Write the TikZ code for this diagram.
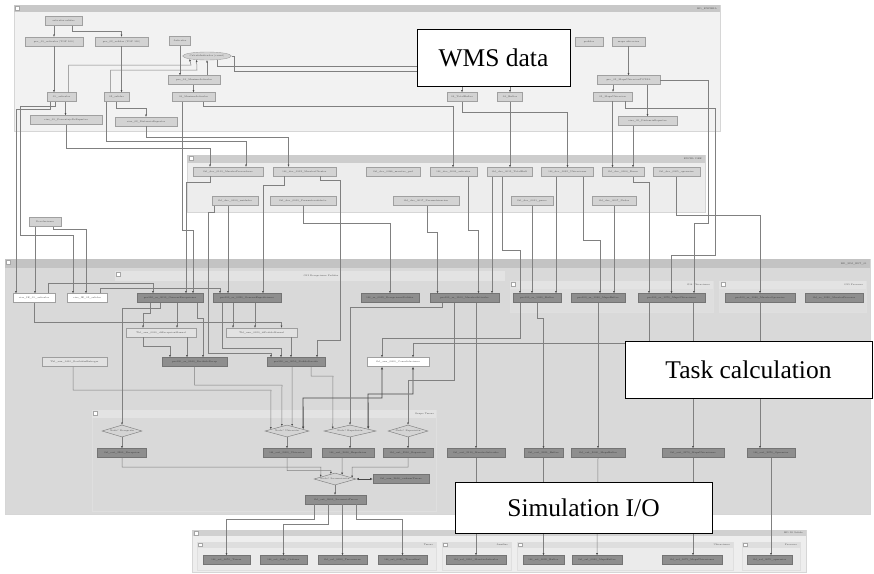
\documentclass[tikz,border=0pt]{standalone}
\usepackage{fontspec}
\newfontfamily\calloutfont{Liberation Serif}
\usetikzlibrary{shapes.geometric,arrows.meta}
\definecolor{pnlA}{HTML}{F2F2F2}
\definecolor{barA}{HTML}{C8C8C8}
\definecolor{pnlB}{HTML}{D6D6D6}
\definecolor{pnlX}{HTML}{EDEDED}
\definecolor{barX}{HTML}{CDCDCD}
\definecolor{pnlS}{HTML}{D9D9D9}
\definecolor{barS}{HTML}{C3C3C3}
\definecolor{subbar}{HTML}{E3E3E3}
\definecolor{subbody}{HTML}{DEDEDE}
\definecolor{pnlO}{HTML}{EEEEEE}
\definecolor{barO}{HTML}{D0D0D0}
\definecolor{lb}{HTML}{D3D3D3}
\definecolor{bd}{HTML}{A0A0A0}
\definecolor{db}{HTML}{8E8E8E}
\definecolor{dbd}{HTML}{747474}
\definecolor{gb}{HTML}{E2E2E2}
\definecolor{lc}{HTML}{808080}
\definecolor{tipc}{HTML}{4A4A4A}
\definecolor{tx}{HTML}{4A4A4A}
\definecolor{diaf}{HTML}{D4D4D4}
\definecolor{diac}{HTML}{7E7E7E}
\newcommand\tl{\fontsize{2.3}{2.6}\selectfont}
\tikzset{
 conn/.style={draw=lc, line width=0.5pt, -{Latex[length=2.2pt,width=2pt,color=tipc]}},
 bconn/.style={draw=black!72, line width=0.9pt, {Latex[length=2.6pt,width=2.4pt]}-{Latex[length=2.6pt,width=2.4pt]}},
 nd/.style={rectangle, draw=bd, line width=0.4pt, minimum height=9pt, inner sep=0.3pt, font=\tl, text=tx},
 lbox/.style={nd, fill=lb},
 dbox/.style={nd, fill=db, draw=dbd, text=black!80},
 wbox/.style={nd, fill=white},
 gbox/.style={nd, fill=gb, draw=black!38},
 ell/.style={ellipse, draw=bd, fill=lb, line width=0.4pt, inner sep=0pt, font=\tl, text=tx},
 dia/.style={diamond, aspect=3.5, draw=diac, fill=diaf, line width=0.45pt, inner sep=0pt, minimum height=12pt, font=\tl, text=tx},
 callout/.style={rectangle, draw=black, line width=0.9pt, fill=white, inner sep=0pt, font=\calloutfont\fontsize{25.5}{30}\selectfont, text=black},
 ptitle/.style={font=\tl, text=tx, inner sep=0pt},
 chk/.style={draw=gray!70, fill=white, line width=0.3pt},
}
\begin{document}
\begin{tikzpicture}[x=1pt,y=-1pt]
\useasboundingbox (0,0) rectangle (874,573);
\fill[white] (0,0) rectangle (874,573);
% ---------- panels ----------
\path[fill=pnlA, draw=pnlB, line width=0.4pt] (14,5) rectangle (720,131);
\path[fill=barA] (14,5) rectangle (720,12);
\path[chk] (15.5,6) rectangle (19.5,10);
\node[ptitle, anchor=east] (tA1) at (717,8.5) {BD\_EXPBEA};

\path[fill=pnlX, draw=pnlB, line width=0.4pt] (187,155) rectangle (705,212);
\path[fill=barX] (187,155) rectangle (705,163);
\path[chk] (189,156) rectangle (193,160);
\node[ptitle, anchor=east] (tX1) at (702,159) {EXCEL DBE};

\path[fill=pnlS, draw=pnlB, line width=0.4pt] (5,259) rectangle (870,514);
\path[fill=barS] (5,259) rectangle (870,268);
\path[chk] (6,260) rectangle (10,264);
\node[ptitle, anchor=east] (tS1) at (867,263.5) {BD\_SIM\_EST\_01};

\path[fill=subbar] (115,271) rectangle (505,281);
\path[chk] (116.5,272.5) rectangle (120.5,276.5);
\node[ptitle] (tG12) at (321,276) {G12 Recepciones Pedidos};

\path[fill=subbody, draw=white!75!gray, line width=0.3pt] (510,281) rectangle (713,312);
\path[fill=subbar] (510,281) rectangle (713,289);
\path[chk] (511.5,282.5) rectangle (515.5,286.5);
\node[ptitle, anchor=east] (tG14) at (710,285) {G14 Ubicaciones};

\path[fill=subbody, draw=white!75!gray, line width=0.3pt] (719,281) rectangle (866,312);
\path[fill=subbar] (719,281) rectangle (866,289);
\path[chk] (721,282.5) rectangle (725,286.5);
\node[ptitle, anchor=east] (tG15) at (863,285) {G15 Procesos};

\path[fill=pnlS, draw=white!75!gray, line width=0.3pt] (92,410) rectangle (436,511);
\path[fill=subbar] (92,410) rectangle (436,418);
\path[chk] (93.5,411.5) rectangle (97.5,415.5);
\node[ptitle, anchor=east] (tGT) at (434,414) {Grupo Tareas};

\path[fill=pnlO, draw=pnlB, line width=0.4pt] (192,530) rectangle (806,572);
\path[fill=barO] (192,530) rectangle (806,536);
\path[chk] (194,531) rectangle (198,535);
\node[ptitle, anchor=east] (tO1) at (803,533) {BD IO Salida};
\foreach \xa/\xb/\nm/\lab in {197/436/oA/Tareas, 442/511/oB/Auxiliar, 517/733/oC/Ubicaciones, 742/800/oD/Procesos}{
  \path[fill=subbody!60!white, draw=white!75!gray, line width=0.3pt] (\xa,542) rectangle (\xb,570);
  \path[fill=barO!70!white] (\xa,542) rectangle (\xb,548);
  \path[chk] (\xa+1.5,543) rectangle (\xa+5,546.5);
  \node[ptitle, anchor=east] (\nm) at (\xb-3,545) {\lab};
}

% ---------- nodes: top panel ----------
\node[lbox, minimum width=37pt] (as) at (63.5,21) {articulos.salidas};
\node[lbox, minimum width=58pt] (p01) at (54,41.5) {pro\_01\_articulos (TOP 100)};
\node[lbox, minimum width=53pt] (p02) at (121.5,41.5) {pro\_02\_salidas (TOP 100)};
\node[lbox, minimum width=21pt] (art) at (180,41) {Articulos};
\node[ell, minimum width=45pt, minimum height=8pt] (cI) at (207,56) {CalculoIndicador (count)};
\node[lbox, minimum width=52pt] (p03) at (194,80) {pro\_03\_MaximoArticulos};
\node[lbox, minimum width=43pt] (m03) at (193.5,97) {03\_MaximoArticulos};
\node[lbox, minimum width=29pt] (a01) at (61.5,97) {01\_articulos};
\node[lbox, minimum width=25pt] (s02) at (116.5,97) {02\_salidas};
\node[lbox, minimum width=72pt] (v01) at (66,120) {vias\_01\_PorcentajeDeRepartos};
\node[lbox, minimum width=62pt] (v02) at (146,121.5) {vias\_02\_DistanciaRepartos};
\node[lbox, minimum width=30pt] (tb03) at (462,97) {03\_TotalBultos};
\node[lbox, minimum width=25pt] (b04) at (510,97) {04\_Bultos};
\node[lbox, minimum width=28pt] (ped) at (589,41.5) {pedidos};
\node[lbox, minimum width=33pt] (mapa) at (628.5,41.5) {mapa ubicacion};
\node[lbox, minimum width=63pt] (p05) at (628.5,80) {pro\_05\_MapaUbicacionTOTAL};
\node[lbox, minimum width=39pt] (m05) at (612.5,96.5) {05\_MapaUbicacion};
\node[lbox, minimum width=59pt] (v05) at (647.5,121) {vias\_05\_DistanciaRepartos};

% ---------- nodes: excel panel ----------
\node[lbox, minimum width=70pt] (d101) at (228,171.5) {tbl\_dev\_0101\_MaestroProveedores};
\node[lbox, minimum width=63pt] (d102) at (304.5,171.5) {tbl\_dev\_0102\_MaestroClientes};
\node[lbox, minimum width=54pt] (d086) at (393,172) {tbl\_dev\_0086\_maestro\_prd};
\node[lbox, minimum width=47pt] (d003) at (453.5,172) {tbl\_dev\_0003\_articulos};
\node[lbox, minimum width=45pt] (d015) at (509.5,172) {tbl\_dev\_0015\_TotalBult};
\node[lbox, minimum width=52pt] (d032) at (567.5,172) {tbl\_dev\_0032\_Ubicaciones};
\node[lbox, minimum width=42pt] (d004) at (623,172) {tbl\_dev\_0004\_Zonas};
\node[lbox, minimum width=47pt] (d005) at (676.5,172) {tbl\_dev\_0005\_operarios};
\node[lbox, minimum width=46pt] (d010) at (235,201) {tbl\_dev\_0010\_unidades};
\node[lbox, minimum width=66pt] (d001) at (303,201) {tbl\_dev\_0001\_Parametrosdefecto};
\node[lbox, minimum width=66pt] (d017) at (426,201) {tbl\_dev\_0017\_Parametrizacion};
\node[lbox, minimum width=42pt] (d011) at (532,201) {tbl\_dev\_0011\_pasos};
\node[lbox, minimum width=44pt] (d007) at (614,201) {tbl\_dev\_0007\_Nodos};
\node[lbox, minimum width=32pt] (dev) at (45,222) {Devoluciones};

% ---------- nodes: simulation panel ----------
\node[wbox, minimum width=42pt] (ie01) at (34,298) {vias\_IE\_01\_articulos};
\node[wbox, minimum width=40pt] (ie02) at (87,298) {vias\_IE\_02\_salidas};
\node[dbox, minimum width=66pt] (g10) at (170,298) {pro100\_ss\_0010\_GenerarRecepciones};
\node[dbox, minimum width=68pt] (g20) at (247,298) {pro100\_ss\_0020\_GenerarExpediciones};
\node[dbox, minimum width=58pt] (r05) at (390,298) {tbl\_ss\_0005\_RecepcionesPedidos};
\node[dbox, minimum width=69pt] (g1100) at (464.5,298) {pro100\_ss\_1100\_MaestroArticulos};
\node[dbox, minimum width=48pt] (g14a) at (537,298) {pro100\_ss\_1030\_Bultos};
\node[dbox, minimum width=54pt] (g14b) at (598,298) {pro100\_ss\_1040\_MapaBultos};
\node[dbox, minimum width=67pt] (g14c) at (671.5,298) {pro100\_ss\_1070\_MapaUbicaciones};
\node[dbox, minimum width=70pt] (g15a) at (760,298) {pro100\_ss\_1060\_MaestroOperarios};
\node[dbox, minimum width=58pt] (g15b) at (834,298) {tbl\_ss\_1090\_MaestroProcesos};
\node[gbox, minimum width=70pt] (x10) at (161,332.5) {Tbl\_aux\_0010\_diRecepcionManual};
\node[gbox, minimum width=71pt] (x20) at (261.5,332.5) {Tbl\_aux\_0020\_diPedidoManual};
\node[gbox, minimum width=65pt] (x410) at (74.5,362) {Tbl\_aux\_0410\_RecibidasEntregas};
\node[dbox, minimum width=65pt] (g40) at (194.5,362) {pro100\_ss\_0040\_RecibidoRecep};
\node[dbox, minimum width=58pt] (g50) at (296,362) {pro100\_ss\_0050\_PedidoServido};
\node[wbox, minimum width=62pt] (c400) at (398,362) {tbl\_aux\_0400\_Consolidaciones};

\node[dia, minimum width=40pt] (dA) at (122,431) {Nodo? Recepci\'on};
\node[dia, minimum width=44pt] (dB) at (287,431) {Nodo? Ubicaci\'on};
\node[dia, minimum width=52pt] (dC) at (350,431) {Nodo? Expedici\'on};
\node[dia, minimum width=40pt] (dD) at (408,431) {Nodo? Reposici\'on};
\node[dbox, minimum width=49pt] (tA) at (122,453) {tbl\_out\_2200\_Recepcion};
\node[dbox, minimum width=48pt] (tB) at (287,453) {tbl\_out\_2300\_Ubicacion};
\node[dbox, minimum width=52pt] (tC) at (348,453) {tbl\_out\_2400\_Expedicion};
\node[dbox, minimum width=50pt] (tD) at (408,453) {tbl\_out\_2500\_Reposicion};
\node[dbox, minimum width=58pt] (o210) at (476,453) {tbl\_out\_2110\_MaestroArticulos};
\node[dbox, minimum width=39pt] (o020) at (543.5,453) {tbl\_out\_2020\_Bultos};
\node[dbox, minimum width=54pt] (o040) at (598,453) {tbl\_out\_2040\_MapaBultos};
\node[dbox, minimum width=62pt] (o170) at (693,453) {tbl\_out\_2170\_MapaUbicaciones};
\node[dbox, minimum width=48pt] (o070) at (771,453) {tbl\_out\_2070\_Operarios};
\node[dia, minimum width=42pt] (dF) at (335,479) {Nodo? Secuenciaci\'on};
\node[dbox, minimum width=56pt] (ord) at (401,479) {tbl\_aux\_2600\_ordenarTareas};
\node[dbox, minimum width=61pt] (seq) at (336,499.5) {tbl\_out\_2600\_SecuenciaTareas};

% ---------- nodes: output panel ----------
\node[dbox, minimum width=47pt] (b1) at (226.5,560) {tbl\_sal\_0070\_Tareas};
\node[dbox, minimum width=47pt] (b2) at (283.5,560) {tbl\_sal\_0080\_Ordenes};
\node[dbox, minimum width=49pt] (b3) at (342.5,560) {tbl\_sal\_0090\_Tareasrecur};
\node[dbox, minimum width=49pt] (b4) at (402.5,560) {tbl\_sal\_0095\_Tareasfinal};
\node[dbox, minimum width=60pt] (b5) at (476,560) {tbl\_sal\_0110\_MaestroArticulos};
\node[dbox, minimum width=41pt] (b6) at (543.5,560) {tbl\_sal\_0020\_Bultos};
\node[dbox, minimum width=50pt] (b7) at (597,560) {tbl\_sal\_0040\_MapaBultos};
\node[dbox, minimum width=60pt] (b8) at (692,560) {tbl\_sal\_0075\_MapaUbicaciones};
\node[dbox, minimum width=45pt] (b9) at (769.5,560) {tbl\_sal\_0070\_operarios};

% ---------- connectors: top ----------
\draw[conn] (p01.north |- as.south) -- (p01.north);
\draw[conn] ([xshift=9pt]as.south) |- (121.5,31) -- (p02.north);
\draw[conn] (p01.south) -- (p01.south |- a01.north);
\draw[conn] (p02.south) -- (p02.south |- s02.north);
\draw[conn] (art.south) -- (art.south |- p03.north);
\draw[conn] (m03.north |- p03.south) -- (m03.north);
\draw[conn] (p03.north -| cI.south) -- (cI.south);
\draw[conn] ([xshift=7pt]a01.north) |- (191,65) -- (cI.south west);
\draw[conn] ([xshift=-6pt]s02.north) |- (197,70) -- (cI.200);
\draw[conn] ([xshift=10pt]cI.south) |- (462,66) -- (tb03.north);
\draw[conn] (cI.east) -| (234,71) -- (510,71) -- (b04.north);
\draw[conn] ([xshift=10pt]m03.south) |- (453,106) -- ([xshift=-0.5pt]d003.north);
\draw[conn] (tb03.south) |- (567.5,112) -- (d032.north);
\draw[conn] (b04.south) -- (b04.south |- d015.north);
\draw[conn] (mapa.south) -- (p05.north);
\draw[conn] ([xshift=-15.5pt]p05.south) -- ([xshift=-15.5pt]p05.south |- m05.north);
\draw[conn] ([xshift=19pt]p05.south) -- ([xshift=19pt]p05.south |- v05.north);
\draw[conn] (m05.south) -- (m05.south |- d004.north);
\draw[conn] ([xshift=-14.5pt]v05.south) -- ([xshift=-14.5pt]v05.south |- d004.north);
\draw[conn] ([xshift=12.5pt]m05.south) |- (715,108) -- (715,255) -| (g14c.north);
\draw[conn] (p05.east) -| (708,223) -| ([xshift=22.5pt]g14c.north);
% ---------- connectors: left ----------
\draw[conn] ([xshift=-6.5pt]a01.south) |- (20,106) -- (20,235) -| ([xshift=-14pt]ie02.north);
\draw[conn] ([xshift=-11.5pt]a01.south) |- (16,109) -- ([xshift=-18pt]ie01.north);
\draw[conn] ([xshift=4pt]a01.south) -- ([xshift=4pt]a01.south |- v01.north);
\draw[conn] (v01.south) |- (210,148) -- ([xshift=-18pt]d101.north);
\draw[conn] ([xshift=-10.5pt]s02.south) |- (246,141) -- ([xshift=18pt]d101.north);
\draw[conn] (s02.south) |- (146,108) -- (v02.north);
\draw[conn] (v02.south) |- (288.5,137) -- ([xshift=-16pt]d102.north);
\draw[conn] ([xshift=-11.5pt]m03.south) -- (182,230) -| ([xshift=23pt]g10.north);
\draw[conn] ([xshift=-10pt]dev.south) -- ([xshift=-10pt]dev.south |- ie01.north);
\draw[conn] ([xshift=8pt]dev.south) |- (86,229) -- ([xshift=-1pt]ie02.north);
% ---------- connectors: excel to simulation ----------
\draw[conn] ([xshift=-18pt]d101.south) |- (186,182) -- ([xshift=16pt]g10.north);
\draw[conn] ([xshift=-7pt]d010.south) -- ([xshift=-19pt]g20.north);
\draw[conn] ([xshift=-21pt]d010.south) |- (208,212) -- (208,353) -| ([xshift=-25pt]g50.north);
\draw[conn] ([xshift=-20.5pt]d102.south) |- (263,185) -- ([xshift=16pt]g20.north);
\draw[conn] ([xshift=15.5pt]d102.south) |- (340,180) -- (340,340) -| ([xshift=21pt]g50.north);
\draw[conn] (d001.south) |- (390,223) -- (r05.north);
\draw[conn] ([xshift=1pt]d017.south) |- (437.5,232) -- ([xshift=-27pt]g1100.north);
\draw[conn] ([xshift=14.5pt]d003.south) |- (478.5,230) -- ([xshift=14pt]g1100.north);
\draw[conn] ([xshift=-17.5pt]d015.south) -- ([xshift=-17.5pt]d015.south |- g1100.north);
\draw[conn] (d011.south) -- (d011.south |- g14a.north);
\draw[conn] ([xshift=-7.5pt]d015.south) |- (520,250) -- ([xshift=-17pt]g14a.north);
\draw[conn] ([xshift=-11.5pt]d032.south) -- ([xshift=-11.5pt]d032.south |- g14a.north);
\draw[conn] ([xshift=15.5pt]d032.south) |- (600,240) -- ([xshift=2pt]g14b.north);
\draw[conn] (d007.south) -- (d007.south |- g14b.north);
\draw[conn] ([xshift=10pt]d004.south) |- (649,182) -- ([xshift=-22.5pt]g14c.north);
\draw[conn] (d005.south) |- (760,215) -- (g15a.north);
% ---------- connectors: simulation ----------
\draw[conn] ([xshift=14pt]ie01.north) |- (153,283) -- ([xshift=-17pt]g10.north);
\draw[conn] ([xshift=13pt]ie02.north) |- (220,288) -- ([xshift=-27pt]g20.north);
\draw[conn] (ie01.south) |- (281.5,322) -- ([xshift=20pt]x20.north);
\draw[conn] ([xshift=-20pt]g10.south) |- (143,313) -- ([xshift=-18pt]x10.north);
\draw[conn] ([xshift=7pt]g10.south) -- ([xshift=16pt]x10.north);
\draw[conn] ([xshift=27pt]g10.south) |- (203,318) -- ([xshift=8.5pt]g40.north);
\draw[conn] ([xshift=-10pt]g10.south) |- (122,308) -- (dA.north);
\draw[conn] ([xshift=-18pt]x10.south) |- (170,346) -- ([xshift=-24.5pt]g40.north);
\draw[conn] ([xshift=26pt]x10.south) -- ([xshift=-7.5pt]g40.north);
\draw[conn] ([xshift=-25pt]g20.south) |- (281,348) -- ([xshift=-15pt]g50.north);
\draw[conn] ([xshift=-14pt]g20.south) -- ([xshift=-28.5pt]x20.north);
\draw[conn] ([xshift=8pt]g20.south) -- ([xshift=-6.5pt]x20.north);
\draw[conn] ([xshift=29.5pt]x20.south) -- ([xshift=-5pt]g50.north);
\draw[conn] ([xshift=-1.5pt]x410.south) |- (271,390) -- (dB.174);
\draw[conn] (g40.south) |- (282,385) -- (dB.137);
\draw[conn] ([xshift=-4pt]g50.south) -- (dB.43);
\draw[conn] ([xshift=15pt]g50.south) |- (333,376) -- (dC.173);
\draw[bconn] ([xshift=-16pt]c400.south) |- (303,398) -- (dB.6);
\draw[bconn] ([xshift=15pt]c400.south) |- (368,394) -- (dC.6);
\draw[conn] ([xshift=-22.5pt]g1100.south) |- (350,307) -- (dC.north);
\draw[conn] ([xshift=-10pt]g1100.south) |- (408,380) -- (dD.north);
\draw[conn] ([xshift=-17pt]g14a.south) |- (382,338) -- ([xshift=-16pt]c400.north);
\draw[conn] ([xshift=-22.5pt]g14c.south) |- (413,343) -- ([xshift=15pt]c400.north);
\draw[conn] (dA.south) -- (tA.north);
\draw[conn] (dB.south) -- (tB.north);
\draw[conn] (dC.south) -- (dC.south |- tC.north);
\draw[conn] (dD.south) -- (tD.north);
\draw[conn] (tA.south) |- (321,467) -- (dF.172);
\draw[conn] (tB.south) |- (331,470.5) -- (dF.130);
\draw[conn] ([xshift=-6pt]tC.south) -- (dF.30);
\draw[conn] (tD.south) |- (352,467) -- (dF.4);
\draw[bconn] (dF.east) -- (ord.west);
\draw[conn] (dF.south) -- (dF.south |- seq.north);
\draw[conn] ([xshift=11.5pt]g1100.south) -- (o210.north);
\draw[conn] (g14a.south) |- (543.5,318) -- (o020.north);
\draw[conn] (g14b.south) -- (o040.north);
\draw[conn] ([xshift=21.5pt]g14c.south) -- (o170.north);
\draw[conn] (g15a.south) -- (g15a.south |- o070.north);
% ---------- connectors: to output ----------
\draw[conn] ([xshift=-22pt]seq.south) |- (226.5,519) -- (b1.north);
\draw[conn] ([xshift=-8pt]seq.south) |- (283.5,524) -- (b2.north);
\draw[conn] ([xshift=6.5pt]seq.south) -- ([xshift=6.5pt]seq.south |- b3.north);
\draw[conn] ([xshift=20pt]seq.south) |- (402.5,519) -- (b4.north);
\draw[conn] (o210.south) -- (b5.north);
\draw[conn] (o020.south) -- (b6.north);
\draw[conn] (o040.south) -- (b7.north);
\draw[conn] (o170.south) -- (o170.south |- b8.north);
\draw[conn] (o070.south) -- (o070.south |- b9.north);

% ---------- callouts ----------
\node[callout, minimum width=153pt, minimum height=57pt] (wms) at (493.5,57.5) {WMS data};
\node[callout, minimum width=247pt, minimum height=57pt] (task) at (748.5,369.5) {Task calculation};
\node[callout, minimum width=257pt, minimum height=51pt] (simio) at (583.5,507.5) {Simulation I/O};
\end{tikzpicture}
\end{document}
